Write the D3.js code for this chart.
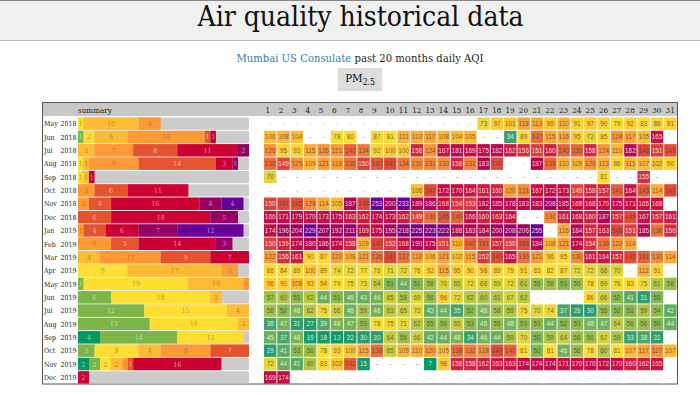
<!DOCTYPE html>
<html>
<head>
<meta charset="utf-8">
<script src="https://cdn.jsdelivr.net/npm/d3@7"></script>
<style>
  html, body { margin: 0; padding: 0; background: #fff; overflow: hidden; }
  svg { display: block; }
  text { font-family: "DejaVu Serif Condensed", "DejaVu Serif", serif; }
  .cell-label { font-family: "Liberation Sans", sans-serif; font-size: 6.4px; }
</style>
</head>
<body>
<div id="chart"></div>
<script>
const months = ["May 2018", "Jun 2018", "Jul 2018", "Aug 2018", "Sep 2018", "Oct 2018", "Nov 2018", "Dec 2018",
  "Jan 2019", "Feb 2019", "Mar 2019", "Apr 2019", "May 2019", "Jun 2019", "Jul 2019", "Aug 2019",
  "Sep 2019", "Oct 2019", "Nov 2019", "Dec 2019"];
const days = d3.range(1, 32);

// daily AQI. 0 = dash (no reading), -1 = faint dash, short row = day not in month
const _ = 0, o = -1;
const daily = [
  [o,o,o,o,o,o,o,o,o,o,o,o,o,o,o,o,73,97,101,118,113,99,110,91,97,90,79,92,83,88,91],
  [106,108,104,_,_,78,80,_,87,81,111,113,117,108,104,105,_,_,34,89,137,115,116,95,72,85,124,117,105,165],
  [126,95,93,115,126,121,140,134,92,100,100,158,124,167,181,169,175,182,162,156,151,160,140,139,158,124,110,182,148,151,146],
  [138,149,125,109,121,118,136,150,143,147,134,130,131,130,158,131,183,146,o,o,187,139,110,109,126,113,86,111,107,102,90],
  [70,_,_,_,_,_,_,_,_,_,_,_,_,_,_,_,_,_,_,_,_,_,_,_,_,81,_,_,155,_],
  [o,o,o,o,o,o,o,o,o,o,o,106,147,172,170,164,161,160,120,131,167,172,173,149,158,157,141,164,143,114,147],
  [150,147,145,128,114,105,187,148,253,200,233,189,186,168,154,153,182,185,178,183,183,208,185,168,168,170,175,171,165,168],
  [166,171,179,170,173,175,163,162,174,173,162,149,136,145,140,166,160,163,164,_,_,130,161,168,160,187,157,146,167,157,161],
  [174,196,204,229,207,192,211,169,175,195,218,225,223,222,188,183,184,200,208,206,255,o,116,184,157,163,148,151,185,136,156],
  [150,159,174,180,186,174,158,109,148,152,168,190,175,151,110,140,141,157,150,146,184,108,121,174,154,136,122,114],
  [122,156,161,90,87,120,108,121,136,147,137,118,106,121,102,115,152,146,165,136,121,96,85,130,161,164,157,146,141,130,114],
  [86,84,89,100,89,74,72,77,76,71,72,76,92,115,95,90,98,89,79,91,83,82,87,72,72,66,70,o,112,91],
  [96,90,108,93,94,79,75,73,64,51,44,51,58,70,65,72,68,69,72,61,55,58,51,56,78,69,76,83,75,61,56],
  [57,60,51,62,44,51,46,43,46,65,58,69,56,96,72,62,60,61,67,62,o,o,o,o,86,66,52,41,31,50],
  [58,52,48,62,75,66,46,59,46,63,65,73,43,44,35,52,48,58,59,75,70,74,37,28,30,55,52,51,59,54,42],
  [36,47,31,27,39,48,47,53,78,75,71,62,55,56,65,53,46,55,48,53,53,44,52,53,48,47,64,56,56,50,44],
  [45,37,48,19,18,13,22,30,30,64,56,66,42,44,48,34,46,44,59,70,50,59,64,56,56,67,59,33,38,31],
  [29,41,53,56,78,93,100,115,138,65,109,110,120,105,138,132,128,147,140,81,50,81,46,56,78,60,81,107,117,127,107],
  [72,44,41,60,83,102,142,15,_,_,_,_,7,98,158,158,162,163,163,174,174,174,171,170,170,172,170,160,162,165],
  [169,174,o,o,o,o,o,o,o,o,o,o,o,o,o,o,o,o,o,o,o,o,o,o,o,o,o,o,o,o,o]
];

// summary bar: days per AQI band, one row per month, bands left to right
const bandColors = ["#009966", "#7ab648", "#ffde33", "#ffbb33", "#ff9933", "#e8532f", "#cc0033", "#960065", "#660099"];
const summary = [
  [0,0,1,10,4,0,0,0,0],
  [0,1,2,6,14,1,1,0,0],
  [0,0,0,3,7,8,11,2,0],
  [0,0,1,1,9,14,3,1,0],
  [0,0,1,1,0,0,1,0,0],
  [0,0,0,0,3,6,11,0,0],
  [0,0,0,0,2,4,16,4,4],
  [0,0,0,0,0,6,18,5,0],
  [0,0,0,0,1,4,6,7,12],
  [0,0,0,0,6,5,14,3,0],
  [0,0,0,4,11,9,7,0,0],
  [0,0,9,17,3,0,0,0,0],
  [0,1,19,10,1,0,0,0,0],
  [0,6,18,2,0,0,0,0,0],
  [0,12,15,4,0,0,0,0,0],
  [0,13,16,2,0,0,0,0,0],
  [4,14,12,0,0,0,0,0,0],
  [0,3,8,4,9,7,0,0,0],
  [2,2,2,2,1,1,16,0,0],
  [0,0,0,0,0,0,2,0,0]
];

const width = 700;
const height = 395;

const svg = d3.select("#chart").append("svg")
  .attr("width", width)
  .attr("height", height);

// page header
svg.append("rect").attr("width", width).attr("height", 40).attr("fill", "#f0f0f0");
svg.append("rect").attr("width", width).attr("height", 1).attr("fill", "#888");
svg.append("line").attr("x1", 0).attr("x2", width).attr("y1", 40.5).attr("y2", 40.5).attr("stroke", "#bbb");
svg.append("text")
  .attr("x", 360.5).attr("y", 26)
  .attr("text-anchor", "middle")
  .style("font-size", "28px")
  .attr("fill", "#111")
  .text("Air quality historical data");

const sub = svg.append("text")
  .attr("x", 360).attr("y", 62)
  .attr("text-anchor", "middle")
  .style("font-size", "11.2px")
  .attr("fill", "#222");
sub.append("tspan").attr("fill", "#2f86a8").text("Mumbai US Consulate");
sub.append("tspan").text(" past 20 months daily AQI");

// pollutant button
svg.append("rect").attr("x", 338).attr("y", 68).attr("width", 44).attr("height", 23).attr("fill", "#dcdcdc");
const btn = svg.append("text")
  .attr("x", 360).attr("y", 82)
  .attr("text-anchor", "middle")
  .style("font-size", "11.5px")
  .attr("fill", "#111");
btn.append("tspan").text("PM");
btn.append("tspan").attr("dy", 3).style("font-size", "8.5px").text("2.5");

// table frame
const tableLeft = 42.5, tableRight = 677.5, tableTop = 102.5, tableBottom = 384;
svg.append("rect")
  .attr("x", tableLeft).attr("y", tableTop)
  .attr("width", tableRight - tableLeft).attr("height", tableBottom - tableTop)
  .attr("fill", "#fff").attr("stroke", "#555");
svg.append("rect")
  .attr("x", tableLeft + 0.5).attr("y", tableTop + 0.5)
  .attr("width", tableRight - tableLeft - 1).attr("height", 13)
  .attr("fill", "#c8c8c8");
svg.append("text")
  .attr("x", 78).attr("y", 112.5)
  .style("font-size", "8px")
  .attr("fill", "#222")
  .text("summary");

const x = d3.scaleBand().domain(days).range([263.6, 677]).paddingInner(0.07).paddingOuter(0.03);
const y = d3.scaleBand().domain(months).range([117, 384]).paddingInner(0.07).paddingOuter(0.03);

const color = d3.scaleLinear()
  .domain([7, 30, 45, 55, 68, 80, 100, 115, 130, 145, 165, 190, 210, 235])
  .range(["#009966", "#2a9d6e", "#6fb05a", "#93bd4f", "#d9d43c", "#ffde33", "#ffc733", "#ffa838", "#f7893a", "#e2503a", "#cc1040", "#ad0557", "#960065", "#660099"])
  .clamp(true);

function cellText(v) {
  return (v < 50 || v > 148) ? "#fff" : "#5a4420";
}

// month labels, month name flush left and year flush right
const monthLabels = svg.append("g").selectAll("text")
  .data(months)
  .join("text")
  .attr("y", d => y(d) + y.bandwidth() / 2 + 2.7)
  .style("font-size", "7px")
  .attr("fill", "#222");
monthLabels.append("tspan").attr("x", 44).text(d => d.split(" ")[0]);
monthLabels.append("tspan").attr("x", 76.5).attr("text-anchor", "end").text(d => d.split(" ")[1]);

// day header
svg.append("g").selectAll("text")
  .data(days)
  .join("text")
  .attr("x", d => x(d) + 1.4)
  .attr("y", 112.5)
  .style("font-size", "8px")
  .attr("fill", "#222")
  .text(d => d);

// summary bars
const barX = d3.scaleLinear().domain([0, 31]).range([78, 249]);
const rows = svg.append("g").selectAll("g")
  .data(months)
  .join("g")
  .attr("transform", d => `translate(0,${y(d)})`);

rows.append("rect")
  .attr("x", barX(0)).attr("width", barX(31) - barX(0))
  .attr("height", y.bandwidth())
  .attr("rx", 1.5)
  .attr("fill", "#cccccc");

rows.each(function (m, i) {
  let start = 0;
  const segs = [];
  summary[i].forEach((n, b) => {
    if (n > 0) segs.push({ n, b, start });
    start += n;
  });
  const g = d3.select(this);
  g.selectAll("rect.seg")
    .data(segs)
    .join("rect")
    .attr("class", "seg")
    .attr("x", d => barX(d.start))
    .attr("width", d => barX(d.start + d.n) - barX(d.start))
    .attr("height", y.bandwidth())
    .attr("fill", d => bandColors[d.b]);
  g.selectAll("text.seglabel")
    .data(segs)
    .join("text")
    .attr("class", "seglabel")
    .attr("x", d => barX(d.start + d.n / 2))
    .attr("y", y.bandwidth() / 2 + 2.5)
    .attr("text-anchor", "middle")
    .style("font-size", "7px")
    .attr("fill", d => d.b >= 5 || d.b < 2 ? "#fff" : "#6b5a20")
    .attr("fill-opacity", 0.55)
    .text(d => d.n);

  // daily cells
  const cells = daily[i].map((v, k) => ({ v, day: k + 1 }));
  g.selectAll("rect.cell")
    .data(cells.filter(d => d.v > 0))
    .join("rect")
    .attr("class", "cell")
    .attr("x", d => x(d.day))
    .attr("width", x.bandwidth())
    .attr("height", y.bandwidth())
    .attr("fill", d => color(d.v));
  g.selectAll("text.cell-label")
    .data(cells)
    .join("text")
    .attr("class", "cell-label")
    .attr("x", d => x(d.day) + x.bandwidth() / 2)
    .attr("y", y.bandwidth() / 2 + 2.3)
    .attr("text-anchor", "middle")
    .attr("fill", d => d.v > 0 ? cellText(d.v) : d.v === 0 ? "#777" : "#c4c4c4")
    .attr("fill-opacity", d => d.v > 0 ? 0.8 : 1)
    .text(d => d.v > 0 ? d.v : "-");
});
</script>
</body>
</html>
